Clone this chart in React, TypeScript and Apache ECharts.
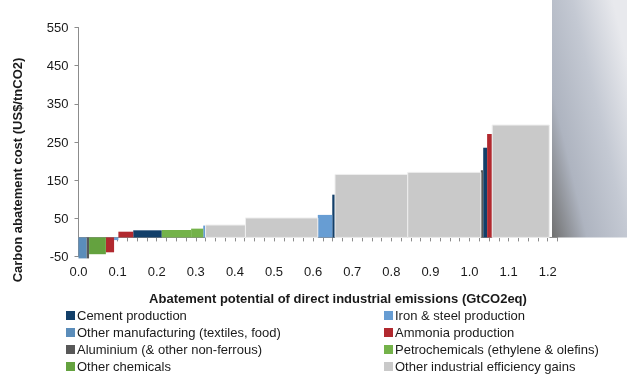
import { useEffect, useRef } from 'react';
import * as echarts from 'echarts';

const categories = [
  'Cement production',
  'Iron & steel production',
  'Other manufacturing (textiles, food)',
  'Ammonia production',
  'Aluminium (& other non-ferrous)',
  'Petrochemicals (ethylene & olefins)',
  'Other chemicals',
  'Other industrial efficiency gains',
];
const categoryColors = ['#123f69', '#679dd3', '#5b8dba', '#b1292f', '#585858', '#74b24a', '#64a23f', '#c9c9c9'];

// abatement measures in merit order (category index, potential GtCO2eq, cost US$/tCO2)
const measureCategory = [2, 4, 6, 3, 1, 3, 0, 5, 5, 1, 7, 7, 1, 0, 7, 7, 4, 0, 3, 7];
const measurePotential = [0.021, 0.006, 0.043, 0.021, 0.011, 0.038, 0.073, 0.075, 0.031, 0.006, 0.102, 0.185, 0.037, 0.007, 0.186, 0.187, 0.006, 0.010, 0.013, 0.146];
const measureCost = [-55, -55, -44, -39, -7, 15, 18.6, 19.4, 23, 31, 32.5, 51, 59, 112, 165, 170.5, 176, 235, 271, 294.5];

const legendLeft = [0, 2, 4, 6];
const legendRight = [1, 3, 5, 7];

const FONT = '"Liberation Sans", Arial, Helvetica, sans-serif';

export default function App() {
  const ref = useRef<HTMLDivElement>(null);
  useEffect(() => {
    if (!ref.current) return;
    const chart = echarts.init(ref.current, undefined, { renderer: 'svg' });

    const starts: number[] = [];
    let acc = 0;
    measurePotential.forEach((w) => {
      starts.push(acc);
      acc += w;
    });

    const series = categories.map((name, ci) => ({
      name,
      type: 'custom',
      color: categoryColors[ci],
      itemStyle: { color: categoryColors[ci] },
      clip: false,
      encode: { x: [0, 1], y: 2 },
      data: measureCategory
        .map((c, i) => (c === ci ? [starts[i], starts[i] + measurePotential[i], measureCost[i]] : null))
        .filter((d) => d !== null),
      renderItem: (params: any, api: any) => {
        const x0 = api.value(0);
        const x1 = api.value(1);
        const v = api.value(2);
        const p0 = api.coord([x0, v]);
        const p1 = api.coord([x1, 0]);
        const isGray = ci === 7;
        return {
          type: 'rect',
          shape: {
            x: p0[0],
            y: Math.min(p0[1], p1[1]),
            width: p1[0] - p0[0],
            height: Math.abs(p1[1] - p0[1]),
          },
          style: {
            fill: categoryColors[ci],
            stroke: isGray ? '#efefef' : null,
            lineWidth: isGray ? 1 : 0,
          },
        };
      },
    }));

    const legendCommon = {
      orient: 'vertical',
      top: 309,
      itemWidth: 9,
      itemHeight: 9,
      itemGap: 4,
      icon: 'rect',
      padding: 0,
      selectedMode: false,
      textStyle: { fontFamily: FONT, fontSize: 13, color: '#1a1a1a', padding: [0, 0, 0, -3] },
    };

    chart.setOption({
      animation: false,
      textStyle: { fontFamily: FONT },
      grid: { left: 78.5, right: 69.5, top: 27.5, bottom: 118.5, containLabel: false },
      xAxis: {
        type: 'value',
        min: 0,
        max: 1.225,
        interval: 0.1,
        axisLine: { onZero: true, lineStyle: { color: '#8c8c8c', width: 1 } },
        axisTick: { show: true, length: 4, lineStyle: { color: '#8c8c8c' } },
        minorTick: { show: true, splitNumber: 4, length: 4, lineStyle: { color: '#8c8c8c' } },
        splitLine: { show: false },
        axisLabel: {
          margin: 8,
          fontSize: 13,
          color: '#1a1a1a',
          fontFamily: FONT,
          showMaxLabel: false,
          formatter: (v: number) => (v > 1.21 ? '' : v.toFixed(1)),
        },
      },
      yAxis: {
        type: 'value',
        min: -50,
        max: 550,
        interval: 100,
        axisLine: { show: true, lineStyle: { color: '#8c8c8c', width: 1 } },
        axisTick: { show: true, length: 4, lineStyle: { color: '#8c8c8c' } },
        splitLine: { show: false },
        axisLabel: { margin: 10, fontSize: 13, color: '#1a1a1a', fontFamily: FONT },
      },
      legend: [
        { ...legendCommon, left: 66, data: legendLeft.map((i) => categories[i]) },
        { ...legendCommon, left: 384, data: legendRight.map((i) => categories[i]) },
      ],
      graphic: [
        {
          type: 'rect',
          silent: true,
          z: -1,
          shape: { x: 552, y: 0, width: 75, height: 237.5 },
          style: {
            fill: new echarts.graphic.LinearGradient(0, 1, 1, 0.25, [
              { offset: 0, color: '#707070' },
              { offset: 0.3, color: '#aeb4c0' },
              { offset: 0.65, color: '#c4c9d3' },
              { offset: 1, color: '#e8e9ed' },
            ]),
          },
        },
        {
          type: 'text',
          x: 338,
          y: 298,
          style: {
            text: 'Abatement potential of direct industrial emissions (GtCO2eq)',
            fontFamily: FONT,
            fontSize: 13,
            fontWeight: 'bold',
            fill: '#1a1a1a',
            align: 'center',
            verticalAlign: 'middle',
          },
        },
        {
          type: 'text',
          x: 17,
          y: 170,
          rotation: Math.PI / 2,
          style: {
            text: 'Carbon abatement cost (US$/tnCO2)',
            fontFamily: FONT,
            fontSize: 13,
            fontWeight: 'bold',
            fill: '#1a1a1a',
            align: 'center',
            verticalAlign: 'middle',
          },
        },
      ],
      series,
    });
    return () => chart.dispose();
  }, []);
  return <div ref={ref} style={{ position: 'fixed', left: 0, top: 0, width: 627, height: 375 }} />;
}
